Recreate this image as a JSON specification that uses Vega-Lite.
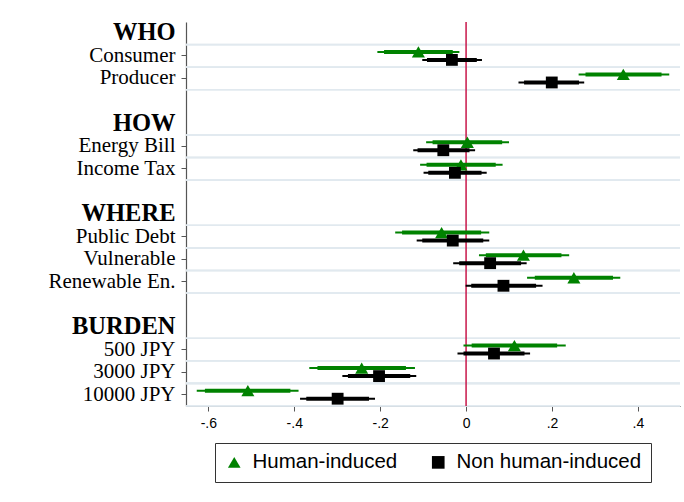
{
  "$schema": "https://vega.github.io/schema/vega-lite/v6.json",
  "autosize": {"type": "none"},
  "width": 494,
  "height": 384,
  "padding": {"left": 186, "top": 22, "right": 4, "bottom": 96},
  "background": "white",
  "config": {"view": {"stroke": null}},
  "datasets": {
    "coef": [
      {"item": "Consumer", "series": "Human-induced", "est": -0.111, "lo95": -0.2065, "hi95": -0.0156, "lo90": -0.191, "hi90": -0.031},
      {"item": "Consumer", "series": "Non human-induced", "est": -0.033, "lo95": -0.102, "hi95": 0.037, "lo90": -0.091, "hi90": 0.025},
      {"item": "Producer", "series": "Human-induced", "est": 0.366, "lo95": 0.262, "hi95": 0.473, "lo90": 0.278, "hi90": 0.455},
      {"item": "Producer", "series": "Non human-induced", "est": 0.1995, "lo95": 0.122, "hi95": 0.275, "lo90": 0.135, "hi90": 0.263},
      {"item": "Energy Bill", "series": "Human-induced", "est": 0.003, "lo95": -0.093, "hi95": 0.1, "lo90": -0.078, "hi90": 0.084},
      {"item": "Energy Bill", "series": "Non human-induced", "est": -0.053, "lo95": -0.123, "hi95": 0.021, "lo90": -0.113, "hi90": 0.008},
      {"item": "Income Tax", "series": "Human-induced", "est": -0.012, "lo95": -0.107, "hi95": 0.085, "lo90": -0.092, "hi90": 0.069},
      {"item": "Income Tax", "series": "Non human-induced", "est": -0.026, "lo95": -0.099, "hi95": 0.048, "lo90": -0.088, "hi90": 0.036},
      {"item": "Public Debt", "series": "Human-induced", "est": -0.057, "lo95": -0.165, "hi95": 0.054, "lo90": -0.149, "hi90": 0.035},
      {"item": "Public Debt", "series": "Non human-induced", "est": -0.031, "lo95": -0.115, "hi95": 0.054, "lo90": -0.102, "hi90": 0.04},
      {"item": "Vulnerable", "series": "Human-induced", "est": 0.1335, "lo95": 0.03, "hi95": 0.24, "lo90": 0.046, "hi90": 0.222},
      {"item": "Vulnerable", "series": "Non human-induced", "est": 0.056, "lo95": -0.03, "hi95": 0.141, "lo90": -0.016, "hi90": 0.128},
      {"item": "Renewable En.", "series": "Human-induced", "est": 0.251, "lo95": 0.142, "hi95": 0.359, "lo90": 0.16, "hi90": 0.342},
      {"item": "Renewable En.", "series": "Non human-induced", "est": 0.087, "lo95": -0.001, "hi95": 0.178, "lo90": 0.012, "hi90": 0.163},
      {"item": "500 JPY", "series": "Human-induced", "est": 0.1125, "lo95": -0.006, "hi95": 0.232, "lo90": 0.013, "hi90": 0.212},
      {"item": "500 JPY", "series": "Non human-induced", "est": 0.065, "lo95": -0.02, "hi95": 0.149, "lo90": -0.006, "hi90": 0.136},
      {"item": "3000 JPY", "series": "Human-induced", "est": -0.243, "lo95": -0.365, "hi95": -0.119, "lo90": -0.346, "hi90": -0.14},
      {"item": "3000 JPY", "series": "Non human-induced", "est": -0.2026, "lo95": -0.288, "hi95": -0.116, "lo90": -0.275, "hi90": -0.13},
      {"item": "10000 JPY", "series": "Human-induced", "est": -0.508, "lo95": -0.627, "hi95": -0.39, "lo90": -0.608, "hi90": -0.409},
      {"item": "10000 JPY", "series": "Non human-induced", "est": -0.299, "lo95": -0.3865, "hi95": -0.212, "lo90": -0.372, "hi90": -0.226}
    ]
  },
  "data": {"name": "coef"},
  "layer": [
    {
      "mark": {"type": "rule", "color": "#e1e9ef", "strokeWidth": 1.6},
      "encoding": {
        "y": {"field": "item", "type": "nominal", "bandPosition": 0,
          "scale": {"domain": ["WHO", "Consumer", "Producer", " ", "HOW", "Energy Bill", "Income Tax", "  ", "WHERE", "Public Debt", "Vulnerable", "Renewable En.", "   ", "BURDEN", "500 JPY", "3000 JPY", "10000 JPY"], "paddingInner": 0, "paddingOuter": 0},
          "axis": {
            "title": null,
            "bandPosition": 0.5,
            "domainColor": "#555555",
            "domainWidth": 1.2,
            "tickColor": "#555555",
            "tickSize": 5,
            "tickOpacity": {"condition": {"test": "indexof(['WHO','HOW','WHERE','BURDEN'], datum.value) >= 0 || trim(datum.value) == ''", "value": 0}, "value": 1},
            "labelFont": "Liberation Serif",
            "labelColor": "#000000",
            "labelPadding": 6,
            "labelLimit": 200,
            "labelFontSize": {"condition": {"test": "indexof(['WHO','HOW','WHERE','BURDEN'], datum.value) >= 0", "value": 24.5}, "value": 21},
            "labelFontWeight": {"condition": {"test": "indexof(['WHO','HOW','WHERE','BURDEN'], datum.value) >= 0", "value": "bold"}, "value": "normal"},
            "grid": false
          }
        }
      }
    },
    {
      "mark": {"type": "rule", "color": "#e1e9ef", "strokeWidth": 1.6},
      "encoding": {
        "y": {"field": "item", "type": "nominal", "bandPosition": 1}
      }
    },
    {
      "data": {"values": [{"zero": 0}]},
      "mark": {"type": "rule", "color": "#c8174a", "strokeWidth": 1.5},
      "encoding": {
        "x": {"field": "zero", "type": "quantitative"}
      }
    },
    {
      "transform": [{"filter": "datum.series == 'Human-induced'"}],
      "mark": {"type": "rule", "color": "#008200", "strokeWidth": 2, "yOffset": -4},
      "encoding": {
        "y": {"field": "item", "type": "nominal"},
        "x": {"field": "lo95", "type": "quantitative"},
        "x2": {"field": "hi95"}
      }
    },
    {
      "transform": [{"filter": "datum.series == 'Human-induced'"}],
      "mark": {"type": "rule", "color": "#008200", "strokeWidth": 4, "yOffset": -4},
      "encoding": {
        "y": {"field": "item", "type": "nominal"},
        "x": {"field": "lo90", "type": "quantitative"},
        "x2": {"field": "hi90"}
      }
    },
    {
      "transform": [{"filter": "datum.series == 'Non human-induced'"}],
      "mark": {"type": "rule", "color": "#000000", "strokeWidth": 2, "yOffset": 4},
      "encoding": {
        "y": {"field": "item", "type": "nominal"},
        "x": {"field": "lo95", "type": "quantitative"},
        "x2": {"field": "hi95"}
      }
    },
    {
      "transform": [{"filter": "datum.series == 'Non human-induced'"}],
      "mark": {"type": "rule", "color": "#000000", "strokeWidth": 4, "yOffset": 4},
      "encoding": {
        "y": {"field": "item", "type": "nominal"},
        "x": {"field": "lo90", "type": "quantitative"},
        "x2": {"field": "hi90"}
      }
    },
    {
      "transform": [{"filter": "datum.series == 'Human-induced'"}],
      "mark": {"type": "point", "filled": true, "opacity": 1, "size": 170, "yOffset": -4},
      "encoding": {
        "y": {"field": "item", "type": "nominal"},
        "x": {"field": "est", "type": "quantitative",
          "scale": {"domain": [-0.652, 0.498], "nice": false, "zero": false},
          "axis": {
            "title": null,
            "values": [-0.6, -0.4, -0.2, 0, 0.2, 0.4],
            "labelExpr": "datum.value == 0 ? '0' : (datum.value < 0 ? '-' : '') + '.' + round(abs(datum.value) * 10)",
            "labelFont": "Liberation Sans",
            "labelFontSize": 14,
            "labelColor": "#000000",
            "labelPadding": 5,
            "tickSize": 5,
            "tickColor": "#555555",
            "domainColor": "#555555",
            "domainWidth": 1.2,
            "grid": false
          }
        },
        "color": {"field": "series", "type": "nominal",
          "scale": {"domain": ["Human-induced", "Non human-induced"], "range": ["#008200", "#000000"]},
          "legend": {
            "title": null,
            "orient": "none",
            "legendX": 29,
            "legendY": 421,
            "direction": "horizontal",
            "labelFont": "Liberation Sans",
            "labelFontSize": 20.5,
            "labelColor": "#000000",
            "labelOffset": 8,
            "labelLimit": 300,
            "symbolSize": 160,
            "symbolStrokeWidth": 0,
            "columnPadding": 30,
            "padding": 9,
            "strokeColor": "#333333",
            "fillColor": "white"
          }
        },
        "shape": {"field": "series", "type": "nominal",
          "scale": {"domain": ["Human-induced", "Non human-induced"], "range": ["triangle-up", "square"]},
          "legend": null
        }
      }
    },
    {
      "transform": [{"filter": "datum.series == 'Non human-induced'"}],
      "mark": {"type": "point", "filled": true, "opacity": 1, "size": 140, "yOffset": 4},
      "encoding": {
        "y": {"field": "item", "type": "nominal"},
        "x": {"field": "est", "type": "quantitative"},
        "color": {"field": "series", "type": "nominal"},
        "shape": {"field": "series", "type": "nominal"}
      }
    }
  ]
}
